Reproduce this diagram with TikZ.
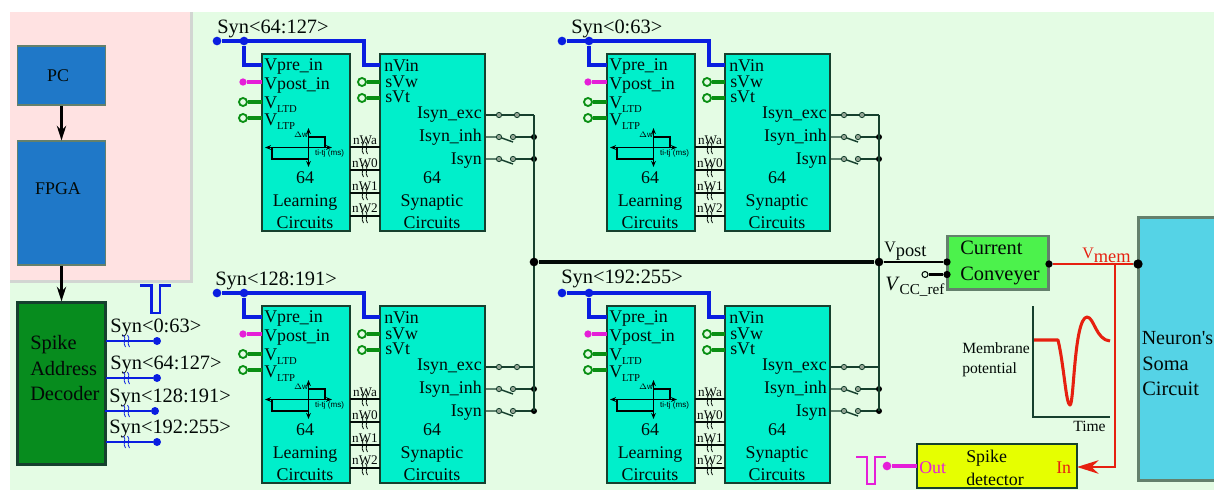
\documentclass[tikz,border=0pt]{standalone}
\usepackage{fontspec}
\setmainfont{Liberation Serif}
\newfontfamily\lsans{Liberation Sans}
\newfontfamily\plainserif{Liberation Serif}
\usetikzlibrary{arrows.meta}
\definecolor{bgG}{HTML}{E4FCE4}
\definecolor{bgP}{HTML}{FFE2E2}
\definecolor{bord}{HTML}{D2D6D2}
\definecolor{blk}{HTML}{1F78C8}
\definecolor{teal}{HTML}{00EFCB}
\definecolor{dark}{HTML}{16402E}
\definecolor{dec}{HTML}{078C1E}
\definecolor{cc}{HTML}{4CF24C}
\definecolor{som}{HTML}{55D3E6}
\definecolor{yel}{HTML}{E6FF00}
\definecolor{wblue}{HTML}{0A1EE0}
\definecolor{wmag}{HTML}{E51FD8}
\definecolor{wgreen}{HTML}{0A8F14}
\definecolor{wred}{HTML}{E62010}
\definecolor{gborder}{HTML}{64806C}
\tikzset{
  x=0.75pt,y=-0.75pt,
  tx/.style={anchor=base west,inner sep=0pt,text=black!85!dark},
  txr/.style={anchor=base east,inner sep=0pt,text=black!85!dark},
  txc/.style={anchor=base,inner sep=0pt,text=black!85!dark},
  f21/.style={font=\fontsize{15.3}{18}\selectfont},
  f18/.style={font=\fontsize{13.4}{16}\selectfont},
  f16/.style={font=\fontsize{11.7}{14}\selectfont},
  f13/.style={font=\fontsize{9.9}{12}\selectfont},
  ftiny/.style={font=\lsans\fontsize{6}{7}\selectfont},
  boxs/.style={draw=dark,line width=1.7pt,inner sep=0pt,rectangle},
  dot/.style={circle,fill,inner sep=0pt,minimum size=#1},
  dot/.default=5.5pt,
  ring/.style={circle,draw,fill=bgG,line width=1.4pt,inner sep=0pt,minimum size=6pt},
  sring/.style={circle,draw=dark,fill=black!35!bgG,line width=.6pt,inner sep=0pt,minimum size=4pt},
  wb/.style={draw=wblue,line width=2.5pt},
  wm/.style={draw=wmag,line width=2.4pt},
  wg/.style={draw=wgreen,line width=2.4pt},
  thin1/.style={draw=dark,line width=1.1pt},
}
% break mark on a wire
\newcommand\brkmark[2]{%
  \draw[#2,line width=.6pt,shift={#1}] (-2.5,-6) .. controls (1,-3) and (-4,2) .. (-.5,6);
  \draw[#2,line width=.6pt,shift={#1}] (1.5,-6) .. controls (5,-3) and (0,2) .. (3.5,6);
}
% one switch branch
\newcommand\swbranch[3]{% prefix, y, closed(1)/open(0)
  \coordinate (#1s#2a) at (485,#2);
  \coordinate (#1s#2b) at (534,#2);
  \coordinate (#1s#2p) at (499,#2);
  \ifnum#3=1
    \draw[thin1] (#1s#2a) -- (#1s#2b);
    \node[sring] (#1s#2c) at (#1s#2p) {};
    \node[sring] (#1s#2d) at (517,#2) {};
  \else
    \coordinate (#1s#2q) at (513,#2);
    \coordinate (#1s#2e) at (513,#2+5);
    \draw[thin1] (#1s#2a) -- (#1s#2p) -- (#1s#2e);
    \draw[thin1] (#1s#2q) -- (#1s#2b);
    \node[sring] (#1s#2c) at (#1s#2p) {};
    \node[sring] (#1s#2d) at (#1s#2q) {};
    \node[dot=4.5pt,fill=black] (#1s#2f) at (534,#2) {};
  \fi
}
% learning + synaptic pair; prefix, dx, dy, label, label x (local), label baseline (local)
\newcommand\blockpair[6]{%
\begin{scope}[shift={(#2,#3)}]
  \node[boxs,fill=teal,minimum width=66pt,minimum height=132.75pt] (#1L) at (306,142.5) {};
  \node[boxs,fill=teal,minimum width=78.75pt,minimum height=132.75pt] (#1S) at (432.5,142.5) {};
  \node[tx,f21] (#1lab) at (#5,#6) {#4};
  % blue inputs
  \node[dot=6.5pt,fill=wblue] (#1d0) at (217,41) {};
  \node[dot=6.5pt,fill=wblue] (#1d1) at (244,41) {};
  \coordinate (#1pre) at (262,65);
  \coordinate (#1vin) at (380,65);
  \draw[wb] (#1d0) -- (364,41) -- (364,65) -- (#1vin);
  \draw[wb] (#1d1) -- (244,65) -- (#1pre);
  % magenta
  \node[dot=5.5pt,fill=wmag] (#1m) at (243,82) {};
  \coordinate (#1post) at (262,82);
  \draw[wm] (#1m) -- (#1post);
  % green rings
  \foreach \nn/\xa/\xb/\yy in {g1/243/262/102,g2/243/262/118,g3/362/380/82,g4/362/380/98}{
    \coordinate (#1\nn e) at (\xb,\yy);
    \node[ring,draw=wgreen] (#1\nn) at (\xa,\yy) {};
    \draw[wg] (#1\nn) -- (#1\nn e);
  }
  % texts learning
  \node[tx,f18] (#1t1) at (264,70) {Vpre\_in};
  \node[tx,f18] (#1t2) at (264,89) {Vpost\_in};
  \node[tx,f18] (#1t3) at (264,108) {V\raisebox{-3pt}{\fontsize{8}{9}\selectfont LTD}};
  \node[tx,f18] (#1t4) at (264,125) {V\raisebox{-3pt}{\fontsize{8}{9}\selectfont LTP}};
  \node[txc,f18] (#1t5) at (305,183) {64};
  \node[txc,f18] (#1t6) at (305,206) {Learning};
  \node[txc,f18] (#1t7) at (305,228) {Circuits};
  % texts synaptic
  \node[tx,f18] (#1t8) at (384,71) {nVin};
  \node[tx,f18] (#1t9) at (385,87) {sVw};
  \node[tx,f18] (#1t10) at (385,102) {sVt};
  \node[txr,f18] (#1t11) at (482,118) {Isyn\_exc};
  \node[txr,f18] (#1t12) at (482,141) {Isyn\_inh};
  \node[txr,f18] (#1t13) at (482,164) {Isyn};
  \node[txc,f18] (#1t14) at (432,183) {64};
  \node[txc,f18] (#1t15) at (432,206) {Synaptic};
  \node[txc,f18] (#1t16) at (432,228) {Circuits};
  % weights
  \foreach \nn/\ty/\ly/\lab in {a/144/147/nWa,b/167/170/nW0,c/190/193/nW1,d/212/216/nW2}{
    \node[txc,f13] (#1w\nn) at (365,\ty) {\lab};
    \coordinate (#1w\nn l) at (350,\ly);
    \coordinate (#1w\nn r) at (380,\ly);
    \draw[thin1,draw=black!80!dark] (#1w\nn l) -- (#1w\nn r);
    \brkmark{(364,\ly+1)}{black!80!dark}
  }
  % inset STDP plot
  \draw[black,line width=.8pt,{Stealth[length=4.5pt,width=3.5pt]}-{Stealth[length=4.5pt,width=3.5pt]}] (265,147.5) -- (332,147.5);
  \draw[black,line width=.8pt,{Stealth[length=4.5pt,width=3.5pt]}-{Stealth[length=4.5pt,width=3.5pt]}] (308.5,128) -- (308.5,167);
  \draw[black,line width=1.5pt] (272,147.5) -- (272,159) -- (308.5,159);
  \draw[black,line width=1.5pt] (308.5,137) -- (324.5,137) -- (324.5,147.5);
  \node[ftiny,anchor=center,inner sep=0pt] (#1i1) at (301,135) {$\Delta$w};
  \node[ftiny,anchor=center,inner sep=0pt] (#1i2) at (329.5,153) {ti-tj (ms)};
  % switches and bus branches
  \swbranch{#1}{115}{1}
  \swbranch{#1}{137}{0}
  \swbranch{#1}{159}{0}
\end{scope}}
\begin{document}
\begin{tikzpicture}
\useasboundingbox (0,0) rectangle (1214,490);
\fill[white] (0,0) rectangle (1214,490);
\fill[bgG] (10,12) rectangle (1214,490);
\fill[bord] (10,12) rectangle (193,283);
\fill[bgP] (10,12) rectangle (190,280);

% left column
\node[boxs,draw=gborder,line width=1.4pt,fill=blk,minimum width=66pt,minimum height=44pt] (pc) at (61.5,75.5) {};
\node[boxs,draw=gborder,line width=1.4pt,fill=blk,minimum width=66pt,minimum height=92.5pt] (fpga) at (61.5,203) {};
\node[boxs,fill=dec,minimum width=66pt,minimum height=121.5pt] (decod) at (61.5,383.5) {};
\node[anchor=center,inner sep=0pt,f18,text=black!85!dark] (pct) at (58,76) {PC};
\node[anchor=center,inner sep=0pt,f18,text=black!85!dark] (fpgat) at (58,189) {FPGA};
\draw[black,line width=1.7pt,-{Stealth[length=11pt,width=7pt]}] (pc) -- (fpga);
\draw[black,line width=1.7pt,-{Stealth[length=11pt,width=7pt]}] (fpga) -- (decod);
\node[tx,f21] (dt1) at (30,349) {Spike};
\node[tx,f21] (dt2) at (30,375) {Address};
\node[tx,f21] (dt3) at (30,400) {Decoder};

% decoder outputs
\foreach \nn/\lx/\ly/\wy/\ex/\sx/\lab in {
  a/110/332/341/157/106/Syn<0:63>,
  b/110/369/378/157/106/Syn<64:127>,
  c/109/402/411/155/105/Syn<128:191>,
  d/109/433/442/157/106/Syn<192:255>}{
  \node[tx,f21] (ol\nn) at (\lx,\ly) {\lab};
  \node[dot=6pt,fill=wblue] (od\nn) at (\ex,\wy) {};
  \coordinate (os\nn) at (\sx,\wy);
  \draw[draw=wblue,line width=2pt] (os\nn) -- (od\nn);
  \brkmark{(126,\wy)}{wblue}
}
\draw[wblue,line width=2pt] (140,285.5) -- (151.5,285.5) -- (151.5,313) -- (160,313) -- (160,285.5) -- (171,285.5);

% block pairs
\blockpair{a}{0}{0}{Syn<64:127>}{217}{33}
\blockpair{b}{345}{0}{Syn<0:63>}{226}{33}
\blockpair{c}{0}{252}{Syn<128:191>}{215}{33}
\blockpair{d}{345}{252}{Syn<192:255>}{216}{31}

% buses
\draw[thin1,line width=1.4pt] (as115b) -- (cs159b);
\draw[thin1,line width=1.4pt] (bs115b) -- (ds159b);
\node[dot=6.5pt,fill=black] (j1) at (534,262) {};
\node[dot=6.5pt,fill=black] (j2) at (879,262) {};
\draw[black!85!dark,line width=2.3pt] (j1) -- (j2);

% current conveyer
\node[boxs,draw=gborder,line width=2pt,fill=cc,minimum width=75.5pt,minimum height=40pt] (conv) at (998,262.5) {};
\node[tx,f21] (cv1) at (960,254) {Current};
\node[tx,f21] (cv2) at (960,280) {Conveyer};
\node[dot=5.5pt,fill=black] (ci1) at (947,262) {};
\node[dot=5.5pt,fill=black] (ci2) at (947,274.5) {};
\draw[black,line width=1.6pt] (j2) -- (ci1);
\node[ring,draw=black!80!dark,minimum size=4.5pt,line width=.8pt] (vr) at (925,274.5) {};
\draw[black,line width=1.9pt] (vr) -- (ci2);
\node[tx,f21] (vp) at (884,252) {{\fontsize{12}{13}\selectfont V}\raisebox{-3pt}{\fontsize{13.8}{15}\selectfont post}};
\node[tx,f21] (vc) at (885,290) {\textit{V}\raisebox{-3pt}{\fontsize{11.4}{14}\selectfont CC\_ref}};

% soma
\node[boxs,draw=gborder,line width=2pt,fill=som,minimum width=62pt,minimum height=197pt] (soma) at (1180,349) {};
\node[tx,font=\plainserif\fontsize{15}{18}\selectfont] (s1) at (1141.5,344) {Neuron's};
\node[tx,f21] (s2) at (1142,370) {Soma};
\node[tx,f21] (s3) at (1142,395) {Circuit};

% Vmem
\node[dot=5.5pt,fill=black] (co) at (1049,264) {};
\node[dot=7pt,fill=black] (si) at (1138,264) {};
\node[tx,f21,text=wred] (vm) at (1082,258) {{\fontsize{12}{13}\selectfont V}\raisebox{-3pt}{\fontsize{13.8}{15}\selectfont mem}};

% detector
\node[boxs,fill=yel,minimum width=120pt,minimum height=33pt] (det) at (997,466) {};
\node[tx,f18] (de1) at (966,462) {Spike};
\node[tx,f18] (de2) at (966,485) {detector};
\node[tx,f18,text=wmag] (de3) at (919,473) {Out};
\node[tx,f18,text=wred] (de4) at (1056,473) {In};
\draw[wred,line width=1.9pt] (co) -- (si);
\coordinate (vmb) at (1115,264);
\coordinate (vmc) at (1115,467);
\coordinate (detin) at (1077,467);
\draw[wred,line width=2.1pt,-{Stealth[length=16pt,width=10pt,inset=5pt]}] (vmb) -- (vmc) -- (detin);
\node[dot=6.5pt,fill=wmag] (mo) at (887,466) {};
\coordinate (deto) at (917,466);
\draw[wm] (mo) -- (deto);
\draw[wmag,line width=2.2pt] (856,457) -- (867,457) -- (867,484) -- (875,484) -- (875,457) -- (886,457);

% membrane plot
\draw[dark,line width=1.2pt] (1033,306) -- (1033,417) -- (1110,417);
\draw[wred,line width=2.3pt,line join=round] (1034,340) -- (1058,340) .. controls (1064,365) and (1066,405) .. (1070,405) .. controls (1074,405) and (1074,318) .. (1087,317) .. controls (1094,317) and (1096,340) .. (1110,341);
\node[tx,f16] (mp1) at (962,353) {Membrane};
\node[tx,f16] (mp2) at (962,373) {potential};
\node[tx,f16] (mp3) at (1073,431) {Time};
\end{tikzpicture}
\end{document}
